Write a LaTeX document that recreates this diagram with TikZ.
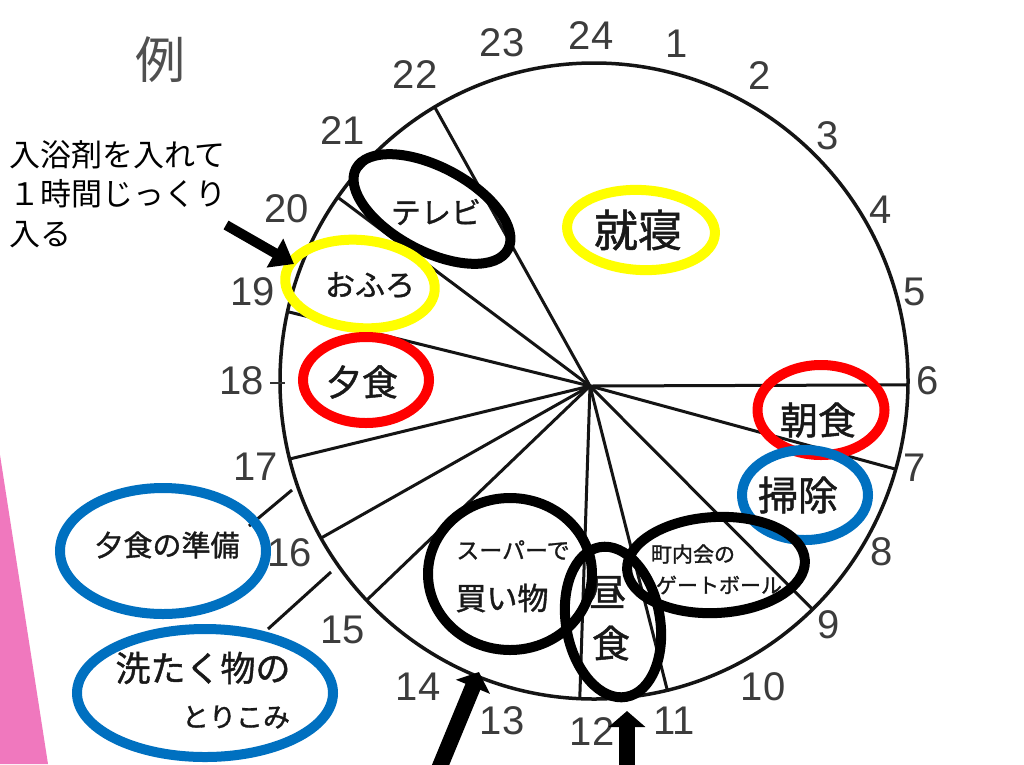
\documentclass[tikz,border=0pt]{standalone}
\usepackage{fontspec}
\setmainfont{Liberation Sans}
\newfontfamily\jp{Noto Sans CJK JP}
\newfontfamily\jph[FakeBold=1.2]{Noto Sans CJK JP}
\usetikzlibrary{shapes.geometric,arrows.meta}
\definecolor{ylw}{RGB}{255,255,0}
\definecolor{rd}{RGB}{255,0,0}
\definecolor{bl}{RGB}{0,112,192}
\definecolor{pk}{RGB}{240,120,190}
\definecolor{numc}{RGB}{60,60,60}
\definecolor{ink}{RGB}{25,25,25}
\begin{document}
\begin{tikzpicture}[x=1pt,y=-1pt,
  ring/.style={draw, ellipse, line width=10pt, inner sep=0pt},
  hw/.style={font=\jph\fontsize{#1}{#1}\selectfont, text=ink, inner sep=0pt},
  num/.style={text=numc, inner sep=0pt, font=\fontsize{40}{40}\selectfont},
  spoke/.style={line width=3pt, black!92},
  bigarrow/.style={line width=16pt, -{Triangle[length=16pt,width=36pt]}}
]
\useasboundingbox (0,0) rectangle (1024,764);
\fill[white] (0,0) rectangle (1024,764);
\fill[pk] (0,455) -- (48,764) -- (0,764) -- cycle;

% clock face
\coordinate (ctr) at (594,381);
\coordinate (hub) at (590,386);
\draw[line width=3.5pt, black!92] (ctr) ellipse [x radius=314pt, y radius=318pt];
\foreach \n/\a in {s22/120.5, s20/144.7, s19/167.4, s17/194.2, s16/209.6, s15/223.6, s12/267.4, s11/283.5, s9/314.1, s7/343.9, s6/359.3}
  \coordinate (\n) at ([shift={(594,381)}]\a:314pt and 318pt);
\foreach \n in {s22,s20,s19,s17,s16,s15,s12,s11,s9,s7,s6}
  \draw[spoke] (hub) -- (\n);
\coordinate (t18a) at (270,383);
\coordinate (t18b) at (285,383);
\draw[line width=2.5pt, black!80] (t18a) -- (t18b);

% lines out of the circle to the ellipses on the left
\coordinate (c16o) at (292,490);
\coordinate (p16) at (249,526);
\coordinate (c15o) at (331,572);
\coordinate (p15) at (268,629);
\draw[spoke] (c16o) -- (p16);
\draw[spoke] (c15o) -- (p15);

% hour numbers
\foreach \t/\x/\y in {24/591/36, 1/677/44, 2/760/76, 3/828/136, 4/881/210, 5/915/292,
  6/928/381, 7/915/468, 8/882/552, 9/829/625, 10/763/687, 11/674/721, 12/592/732,
  13/502/721, 14/418/687, 15/343/630, 16/290/553, 17/256/467, 18/242/381,
  19/253/292, 20/287/209, 21/343/131, 22/415/75, 23/502/43}
  \node[num] (n\t) at (\x,\y) {\t};

% title and note
\node[font=\jp\fontsize{50}{50}\selectfont, text=numc!90, inner sep=0pt] (rei) at (160,60) {例};
\node[font=\jp\fontsize{31}{39.5}\selectfont, align=left, anchor=north west, inner sep=0pt] (note) at (9,140)
  {入浴剤を入れて\\１時間じっくり\\入る};

% handwritten labels
\node[hw=30] (ttv) at (436,212) {テレビ};
\node[hw=44] (tshu) at (638,230) {就寝};
\node[hw=30] (tfuro) at (370,285) {おふろ};
\node[hw=36] (tyu) at (362,382) {夕食};
\node[hw=38] (tasa) at (818,420) {朝食};
\node[hw=40] (tsouji) at (798,495) {掃除};
\node[hw=23] (tsup1) at (513,550) {スーパーで};
\node[hw=31] (tsup2) at (502,598) {買い物};
\node[hw=38] (thiru1) at (607,592) {昼};
\node[hw=38] (thiru2) at (611,643) {食};
\node[hw=21] (tgate1) at (693,554) {町内会の};
\node[hw=21] (tgate2) at (719,585) {ゲートボール};
\node[hw=29] (tprep) at (167,545) {夕食の準備};
\node[hw=35] (tsen1) at (203,668) {洗たく物の};
\node[hw=27] (tsen2) at (236,717) {とりこみ};

% coloured rings
\node[ring, draw=black, minimum width=172pt, minimum height=84pt, rotate=-28] (etv) at (432,209) {};
\node[ring, draw=ylw, minimum width=148pt, minimum height=80pt, rotate=-3] (eshu) at (641,230) {};
\node[ring, draw=ylw, minimum width=150pt, minimum height=88pt, rotate=-5] (efuro) at (360,284) {};
\node[ring, draw=rd, minimum width=126pt, minimum height=86pt] (eyu) at (366,380) {};
\node[ring, draw=rd, minimum width=127pt, minimum height=90pt] (easa) at (821,410) {};
\node[ring, draw=bl, minimum width=126pt, minimum height=90pt] (esouji) at (805,495) {};
\node[ring, draw=black, minimum width=164pt, minimum height=152pt] (esup) at (510,574) {};
\node[ring, draw=black, minimum width=94pt, minimum height=152pt, rotate=10] (ehiru) at (613,622) {};
\node[ring, draw=black, minimum width=178pt, minimum height=96pt, rotate=3] (egate) at (716,565) {};
\node[ring, draw=bl, minimum width=206pt, minimum height=126pt] (eprep) at (163,551) {};
\node[ring, draw=bl, minimum width=256pt, minimum height=128pt] (esen) at (205,693) {};

% arrows
\coordinate (a1s) at (226,225);
\coordinate (a1e) at (294,264);
\draw[line width=10pt, -{Triangle[length=22pt,width=32pt]}] (a1s) -- (a1e);
\coordinate (a2s) at (436,776);
\coordinate (a2e) at (479,672);
\draw[bigarrow] (a2s) -- (a2e);
\coordinate (a3s) at (627,776);
\coordinate (a3e) at (627,711);
\draw[bigarrow] (a3s) -- (a3e);
\end{tikzpicture}
\end{document}
